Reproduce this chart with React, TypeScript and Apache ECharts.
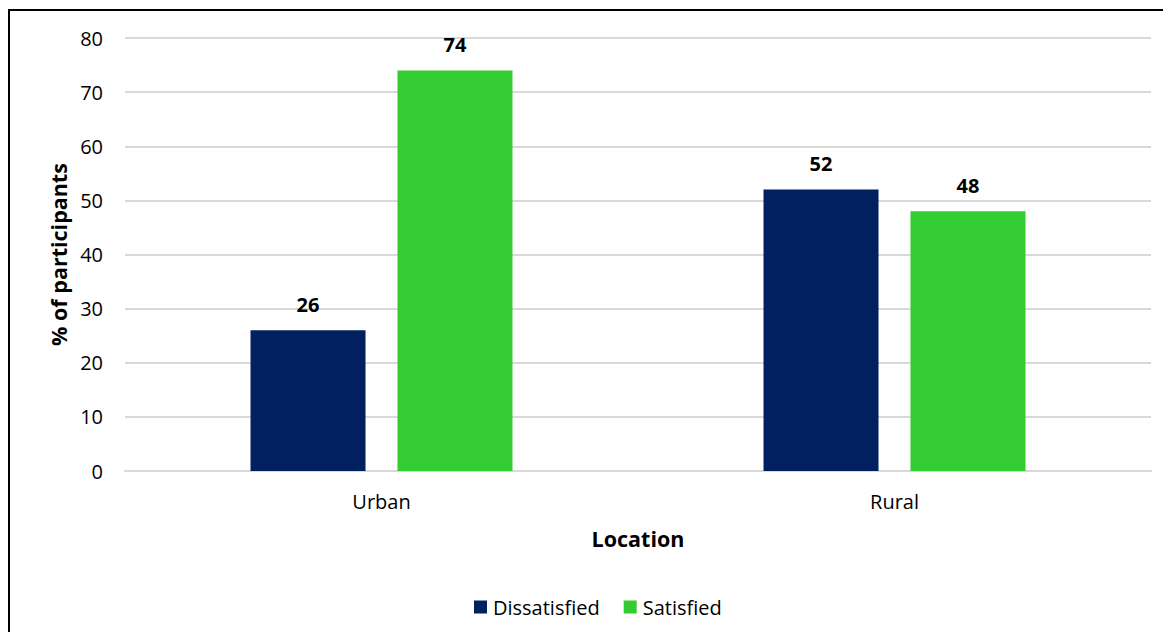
import React, { useEffect, useRef } from "react";
import * as echarts from "echarts";

const categories = ["Urban", "Rural"];
const dissatisfied = [26, 52];
const satisfied = [74, 48];
const yTicks = { min: 0, max: 80, interval: 10 };

const FONT = "'Open Sans', 'Noto Sans', sans-serif";

export default function App() {
  const ref = useRef<HTMLDivElement>(null);
  useEffect(() => {
    document.body.style.overflow = "hidden";
    const chart = echarts.init(ref.current!, null, { renderer: "svg" });
    const labelStyle = {
      show: true,
      position: "top" as const,
      distance: 16,
      color: "#000",
      fontWeight: "bold" as const,
      fontSize: 20,
      fontFamily: FONT,
    };
    chart.setOption({
      animation: false,
      backgroundColor: "#fff",
      textStyle: { fontFamily: FONT },
      grid: { left: 115, right: 20, top: 27, bottom: 161 },
      legend: {
        data: ["Dissatisfied", "Satisfied"],
        left: 459,
        top: 581,
        itemWidth: 13,
        itemHeight: 13,
        itemGap: 24,
        icon: "rect",
        textStyle: { fontSize: 20, color: "#000", fontFamily: FONT, padding: [0, 0, 0, 1] },
      },
      xAxis: {
        type: "category",
        data: categories,
        name: "Location",
        nameLocation: "middle",
        nameGap: 56,
        nameTextStyle: { fontSize: 21.5, fontWeight: "bold", color: "#000", fontFamily: FONT },
        axisLine: { show: true, lineStyle: { color: "#d9d9d9", width: 2 } },
        axisTick: { show: false },
        axisLabel: { fontSize: 20, color: "#000", margin: 20, fontFamily: FONT },
      },
      yAxis: {
        type: "value",
        min: yTicks.min,
        max: yTicks.max,
        interval: yTicks.interval,
        name: "% of participants",
        nameLocation: "middle",
        nameGap: 56,
        nameRotate: 90,
        nameTextStyle: { fontSize: 21.5, fontWeight: "bold", color: "#000", fontFamily: FONT },
        axisLine: { show: false },
        axisTick: { show: false },
        axisLabel: { fontSize: 20, color: "#000", margin: 22, fontFamily: FONT },
        splitLine: { lineStyle: { color: "#d9d9d9", width: 2 } },
      },
      series: [
        {
          name: "Dissatisfied",
          type: "bar",
          data: dissatisfied,
          barWidth: 115,
          barGap: "27.8%",
          itemStyle: { color: "#002060" },
          label: labelStyle,
        },
        {
          name: "Satisfied",
          type: "bar",
          data: satisfied,
          barWidth: 115,
          itemStyle: { color: "#33cc33" },
          label: labelStyle,
        },
      ],
    });
    return () => chart.dispose();
  }, []);
  return (
    <div
      ref={ref}
      style={{
        width: 1161,
        height: 621,
        borderTop: "2px solid #000",
        borderLeft: "2px solid #000",
        marginTop: 1,
      }}
    />
  );
}
